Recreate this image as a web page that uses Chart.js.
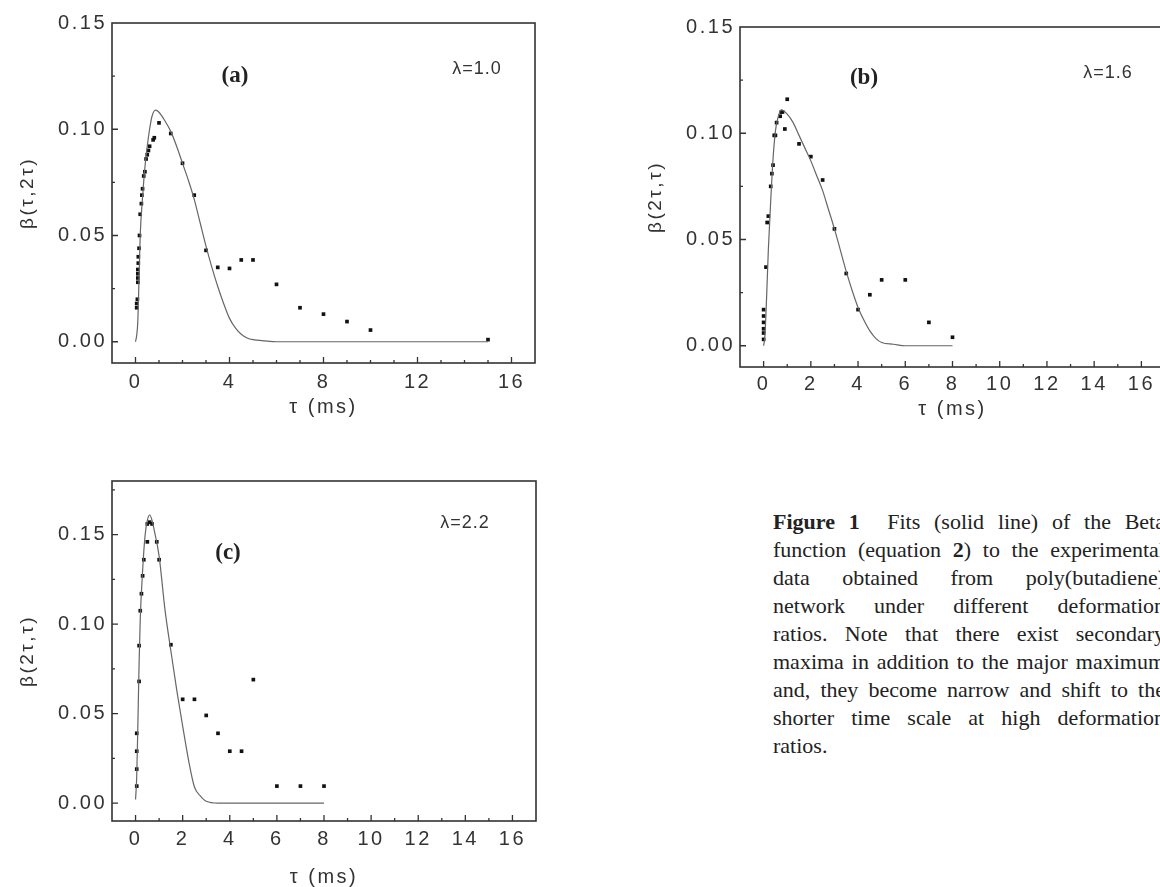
<!DOCTYPE html>
<html>
<head>
<meta charset="utf-8">
<script src="https://cdn.jsdelivr.net/npm/chart.js@4.4.1/dist/chart.umd.min.js"></script>
<style>
  body { margin: 0; background: #fff; width: 1160px; height: 887px; overflow: hidden; position: relative; }
  .panel { position: absolute; }
  .tag { position: absolute; transform: translate(-50%, -50%); white-space: nowrap; color: #222; }
  .lett { font: bold 23px "Liberation Serif", "Times New Roman", serif; }
  .lam { font: 18px "Liberation Sans", Arial, sans-serif; letter-spacing: 1px; color: #333; }
  .caption { position: absolute; left: 773px; top: 508px; width: 392px; font: 22px "Liberation Serif", "Times New Roman", serif; line-height: 28px; color: #222; }
  .caption div { text-align: justify; text-align-last: justify; white-space: nowrap; }
  .caption div.last { text-align-last: left; }
</style>
</head>
<body>

<div class="panel" style="left:0;top:0;width:545px;height:423px"><canvas id="chart-a"></canvas></div>
<div class="panel" style="left:628px;top:0;width:547px;height:425px"><canvas id="chart-b"></canvas></div>
<div class="panel" style="left:0;top:460px;width:546px;height:433px"><canvas id="chart-c"></canvas></div>

<div class="tag lett" style="left:235px;top:75px">(a)</div>
<div class="tag lam" style="left:477px;top:68px">λ=1.0</div>
<div class="tag lett" style="left:864px;top:77px">(b)</div>
<div class="tag lam" style="left:1108px;top:72px">λ=1.6</div>
<div class="tag lett" style="left:228px;top:552px">(c)</div>
<div class="tag lam" style="left:465px;top:522px">λ=2.2</div>

<div class="caption">
  <div><b>Figure 1</b>&nbsp; Fits (solid line) of the Beta</div>
  <div>function (equation <b>2</b>) to the experimental</div>
  <div>data obtained from poly(butadiene)</div>
  <div>network under different deformation</div>
  <div>ratios. Note that there exist secondary</div>
  <div>maxima in addition to the major maximum</div>
  <div>and, they become narrow and shift to the</div>
  <div>shorter time scale at high deformation</div>
  <div class="last">ratios.</div>
</div>

<script>
// ---- panel (a), lambda = 1.0 ----
const aFitT = [0, 0.05, 0.1, 0.15, 0.2, 0.3, 0.4, 0.5, 0.6, 0.7, 0.85, 1.0, 1.25, 1.5, 1.75, 2.0, 2.25, 2.5, 2.75, 3.0, 3.25, 3.5, 3.75, 4.0, 4.25, 4.5, 4.75, 5.0, 5.5, 6.0, 8, 10, 12, 15];
const aFitB = [0, 0.003, 0.01, 0.03, 0.05, 0.068, 0.082, 0.092, 0.1, 0.106, 0.109, 0.108, 0.104, 0.099, 0.092, 0.084, 0.076, 0.067, 0.056, 0.045, 0.035, 0.026, 0.018, 0.011, 0.0065, 0.0035, 0.0018, 0.001, 0.0004, 0, 0, 0, 0, 0];
const aT = [0.05, 0.05, 0.08, 0.1, 0.1, 0.1, 0.1, 0.12, 0.12, 0.15, 0.17, 0.2, 0.25, 0.27, 0.3, 0.35, 0.4, 0.45, 0.5, 0.55, 0.6, 0.75, 0.8, 1.0, 1.5, 2.0, 2.5, 3.0, 3.5, 4.0, 4.5, 5.0, 6.0, 7.0, 8.0, 9.0, 10.0, 15.0];
const aB = [0.016, 0.018, 0.02, 0.028, 0.03, 0.032, 0.034, 0.037, 0.04, 0.044, 0.05, 0.06, 0.065, 0.069, 0.072, 0.078, 0.08, 0.086, 0.088, 0.09, 0.092, 0.095, 0.096, 0.103, 0.098, 0.084, 0.069, 0.043, 0.035, 0.0345, 0.0385, 0.0385, 0.027, 0.016, 0.013, 0.0095, 0.0055, 0.001];

// ---- panel (b), lambda = 1.6 ----
const bFitT = [0, 0.05, 0.1, 0.2, 0.3, 0.4, 0.5, 0.6, 0.75, 1.0, 1.25, 1.5, 1.75, 2.0, 2.25, 2.5, 2.75, 3.0, 3.25, 3.5, 3.75, 4.0, 4.25, 4.5, 4.75, 5.0, 5.5, 6.0, 7.0, 8.0];
const bFitB = [0, 0.004, 0.015, 0.045, 0.068, 0.088, 0.101, 0.107, 0.111, 0.109, 0.105, 0.099, 0.093, 0.087, 0.080, 0.073, 0.064, 0.055, 0.045, 0.035, 0.026, 0.018, 0.012, 0.007, 0.0035, 0.0015, 0.0007, 0, 0, 0];
const bT = [0, 0, 0, 0, 0, 0, 0.1, 0.15, 0.2, 0.3, 0.35, 0.4, 0.45, 0.5, 0.55, 0.7, 0.75, 0.8, 0.9, 1.0, 1.5, 2.0, 2.5, 3.0, 3.5, 4.0, 4.5, 5.0, 6.0, 7.0, 8.0];
const bB = [0.003, 0.006, 0.008, 0.011, 0.014, 0.017, 0.037, 0.058, 0.061, 0.075, 0.081, 0.085, 0.099, 0.099, 0.105, 0.108, 0.110, 0.110, 0.102, 0.116, 0.095, 0.089, 0.078, 0.055, 0.034, 0.017, 0.024, 0.031, 0.031, 0.011, 0.004];

// ---- panel (c), lambda = 2.2 ----
const cFitT = [0, 0.05, 0.1, 0.15, 0.2, 0.3, 0.4, 0.5, 0.6, 0.7, 0.8, 1.0, 1.25, 1.5, 1.75, 2.0, 2.25, 2.5, 2.75, 3.0, 3.5, 4.0, 6.0, 8.0];
const cFitB = [0.002, 0.015, 0.045, 0.078, 0.103, 0.13, 0.149, 0.158, 0.161, 0.158, 0.152, 0.138, 0.108, 0.085, 0.063, 0.043, 0.024, 0.009, 0.004, 0.001, 0, 0, 0, 0];
const cT = [0.05, 0.05, 0.05, 0.05, 0.15, 0.15, 0.2, 0.25, 0.3, 0.35, 0.5, 0.5, 0.6, 0.7, 0.9, 1.0, 1.5, 2.0, 2.5, 3.0, 3.5, 4.0, 4.5, 5.0, 6.0, 7.0, 8.0];
const cB = [0.0095, 0.019, 0.029, 0.039, 0.068, 0.088, 0.1075, 0.117, 0.127, 0.136, 0.146, 0.156, 0.157, 0.156, 0.146, 0.136, 0.0885, 0.058, 0.058, 0.049, 0.039, 0.029, 0.029, 0.069, 0.0095, 0.0095, 0.0095];

const xTitle = 'τ (ms)';

Chart.defaults.font.family = '"Liberation Sans", Arial, sans-serif';
Chart.defaults.color = '#333';

const zip = (xs, ys) => xs.map((x, i) => ({ x: x, y: ys[i] }));

// wide tracking of the scanned axis lettering
const spacing = {
  id: 'spacing',
  beforeUpdate(chart) { chart.ctx.letterSpacing = '2.5px'; },
  beforeDraw(chart) { chart.ctx.letterSpacing = '2.5px'; }
};

// box around the plot + inward tick marks on bottom and left
const frame = {
  id: 'frame',
  afterDraw(chart) {
    const { ctx, chartArea: a, scales } = chart;
    ctx.save();
    ctx.strokeStyle = '#333';
    ctx.lineWidth = 1.6;
    ctx.strokeRect(a.left, a.top, a.right - a.left, a.bottom - a.top);
    ctx.lineWidth = 1.3;
    ctx.beginPath();
    scales.x.ticks.forEach(t => {
      const px = scales.x.getPixelForValue(t.value);
      if (px <= a.left + 2 || px >= a.right - 2) return;
      const len = t.label ? 6 : 3;
      ctx.moveTo(px, a.bottom); ctx.lineTo(px, a.bottom - len);
    });
    scales.y.ticks.forEach(t => {
      const py = scales.y.getPixelForValue(t.value);
      if (py <= a.top + 2 || py >= a.bottom - 2) return;
      const len = t.label ? 6 : 3;
      ctx.moveTo(a.left, py); ctx.lineTo(a.left + len, py);
    });
    ctx.stroke();
    ctx.restore();
  }
};

function panel(id, fitT, fitB, dotT, dotB, yTitle, opt) {
  new Chart(document.getElementById(id), {
    type: 'scatter',
    data: {
      datasets: [
        { data: zip(fitT, fitB), showLine: true, borderColor: '#666', borderWidth: 1.2, pointRadius: 0, cubicInterpolationMode: 'monotone' },
        { data: zip(dotT, dotB), showLine: false, pointStyle: 'rect', pointRadius: 2.6, backgroundColor: '#111', borderColor: '#111', borderWidth: 0 }
      ]
    },
    options: {
      responsive: true,
      maintainAspectRatio: false,
      animation: false,
      events: [],
      layout: { padding: { top: opt.top, right: 10, left: 12, bottom: 0 } },
      plugins: { legend: { display: false }, tooltip: { enabled: false } },
      scales: {
        x: {
          type: 'linear', min: -1, max: 17,
          afterFit: s => { s.height = opt.xh; },
          grid: { display: false, drawTicks: false },
          border: { display: false },
          ticks: {
            stepSize: 1, autoSkip: false, maxRotation: 0, padding: opt.xpad, includeBounds: false,
            font: { size: 20 }, color: '#333',
            callback: v => (v >= 0 && v % opt.xLab === 0) ? String(v) : ''
          },
          title: { display: true, text: xTitle, font: { size: 20 }, color: '#333' }
        },
        y: {
          type: 'linear', min: -0.01, max: opt.ymax,
          afterFit: s => { s.width = 100; },
          grid: { display: false, drawTicks: false },
          border: { display: false },
          ticks: {
            stepSize: 0.025, autoSkip: false, padding: 5, includeBounds: false,
            font: { size: 20 }, color: '#333',
            callback: v => {
              const k = v / 0.05;
              return (v >= -1e-9 && Math.abs(k - Math.round(k)) < 1e-6) ? Math.abs(v).toFixed(2) : '';
            }
          },
          title: { display: true, text: yTitle, font: { size: 19 }, color: '#333' }
        }
      }
    },
    plugins: [spacing, frame]
  });
}

panel('chart-a', aFitT, aFitB, aT, aB, 'β(τ,2τ)', { top: 23, xh: 60, xpad: 7, xLab: 4, ymax: 0.15 });
panel('chart-b', bFitT, bFitB, bT, bB, 'β(2τ,τ)', { top: 27, xh: 58, xpad: 5, xLab: 2, ymax: 0.15 });
panel('chart-c', cFitT, cFitB, cT, cB, 'β(2τ,τ)', { top: 21, xh: 72, xpad: 6, xLab: 2, ymax: 0.18 });
</script>
</body>
</html>
